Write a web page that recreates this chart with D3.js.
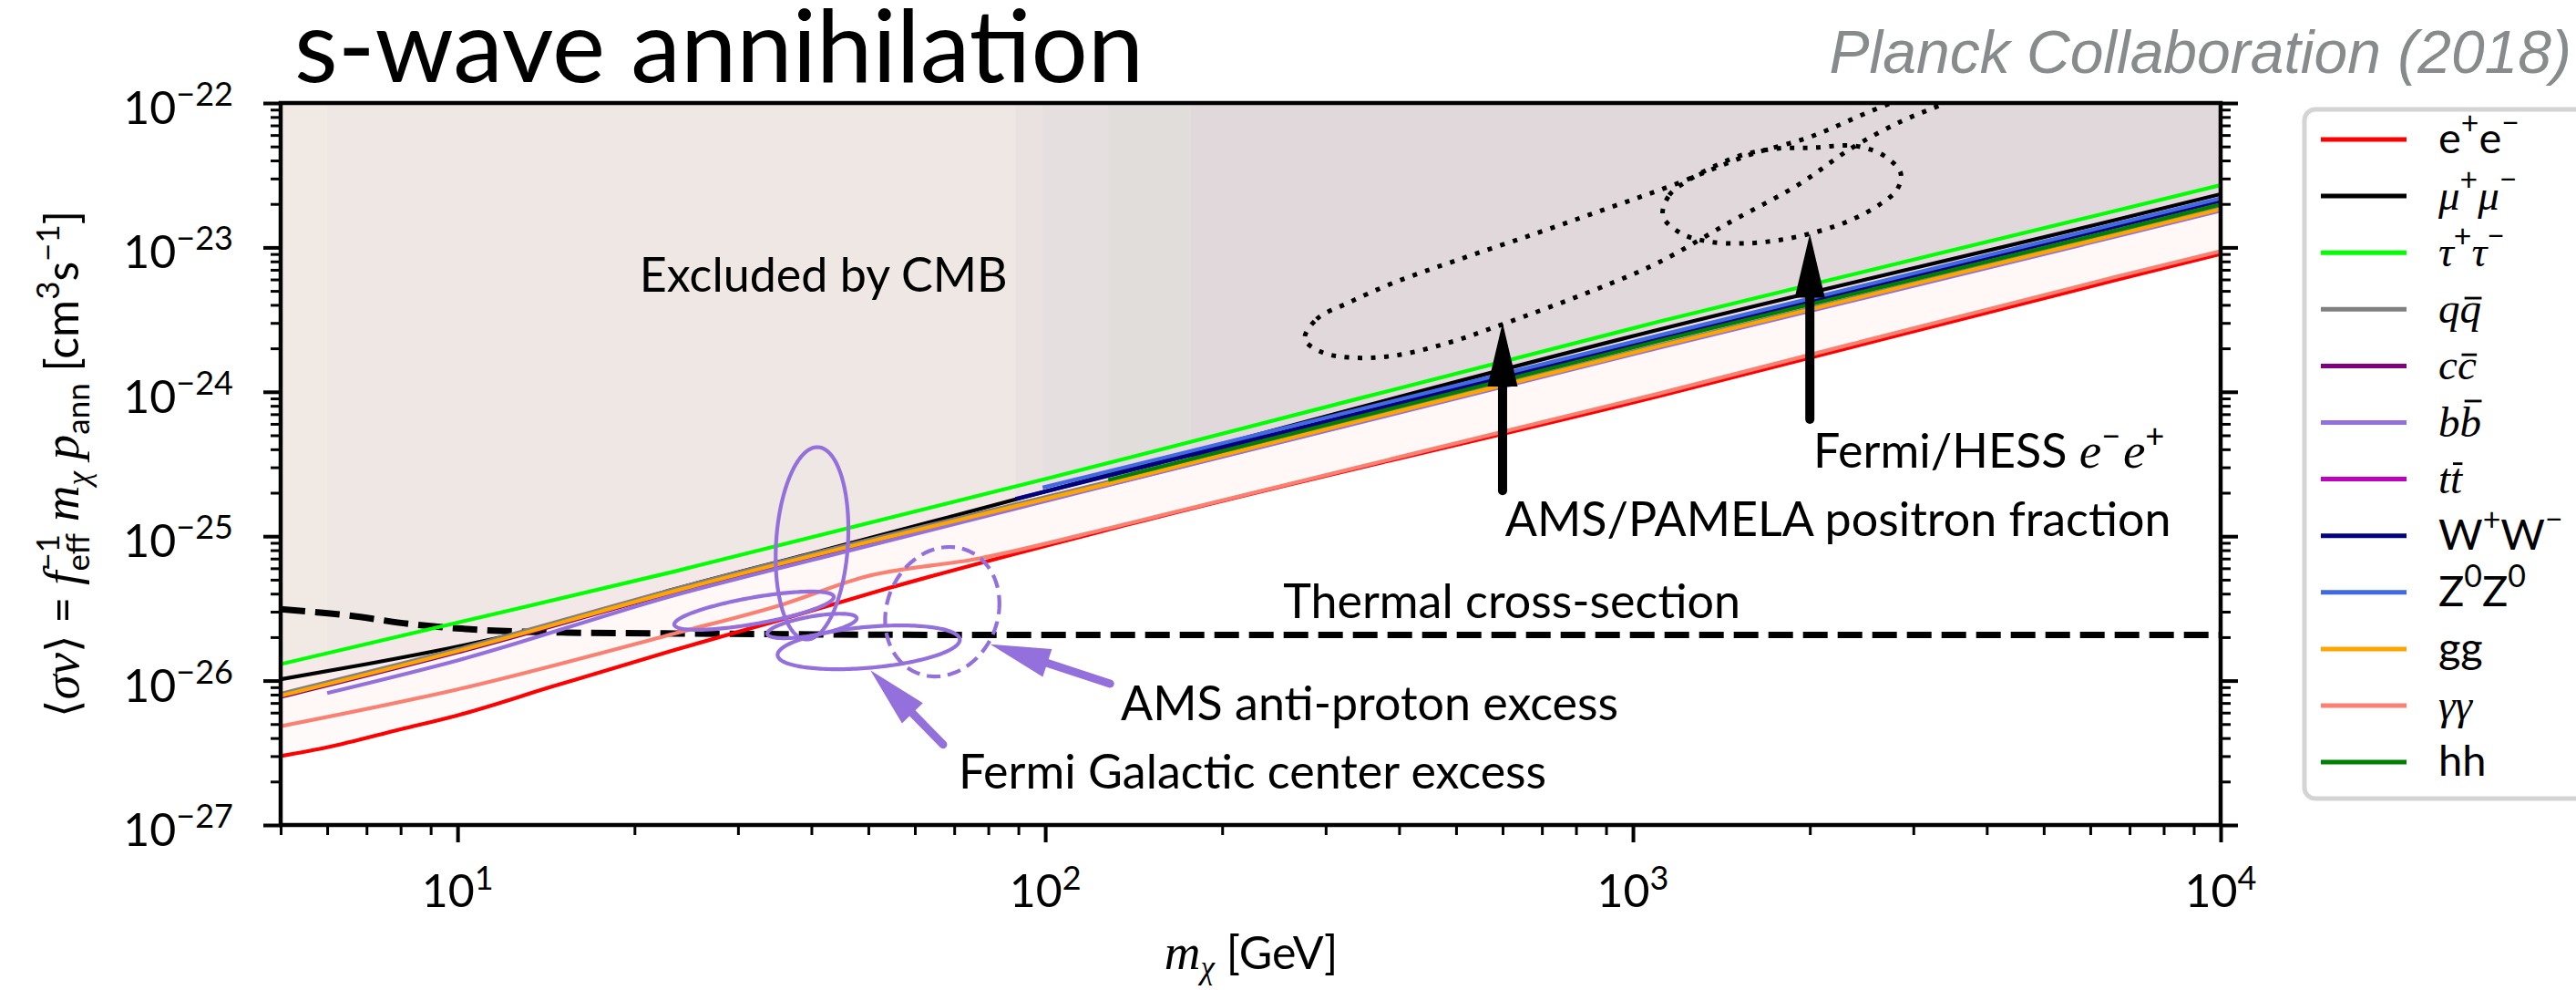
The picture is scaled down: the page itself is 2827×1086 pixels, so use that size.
<!DOCTYPE html>
<html>
<head>
<meta charset="utf-8">
<script src="https://cdn.jsdelivr.net/npm/d3@7"></script>
<style>
  body { margin: 0; background: #fff; }
  svg { display: block; }
  text { white-space: pre; }
</style>
</head>
<body>
<svg id="chart" width="2827" height="1086"></svg>
<script>
// ---- data ----
// each curve: [mass in GeV, <sigma v> in cm^3/s]
const eeCurve     = [[5,3.0e-27],[6,3.45e-27],[8,4.6e-27],[10,5.75e-27],[14.5,9.1e-27],[23.4,1.63e-26],[35,2.6e-26],[54,4.36e-26],[139,1.21e-25],[1104,9.3e-25],[6577,5.9e-24],[1e4,9.0e-24]];
const mumuCurve   = [[5,1.02e-26],[7,1.3e-26],[10,1.72e-26],[13.2,2.2e-26],[23.4,4.3e-26],[42,8.0e-26],[90,1.82e-25],[1104,2.69e-24],[6577,1.54e-23],[1e4,2.34e-23]];
const tautauCurve = [[5,1.30e-26],[10,2.52e-26],[23.4,5.7e-26],[139,3.5e-25],[1104,3.05e-24],[6577,1.78e-23],[1e4,2.7e-23]];
const qqCurve     = [[5,8.1e-27],[10,1.65e-26],[23.4,4.3e-26],[139,2.59e-25],[1104,2.1e-24],[6577,1.23e-23],[1e4,1.87e-23]];
const ccCurve     = [[5,7.7e-27],[10,1.57e-26],[23.4,4.1e-26],[139,2.47e-25],[1104,2.04e-24],[6577,1.2e-23],[1e4,1.82e-23]];
const bbCurve     = [[6,8.2e-27],[10,1.38e-26],[23.4,3.9e-26],[45,7.7e-26],[139,2.45e-25],[1104,2.01e-24],[6577,1.18e-23],[1e4,1.8e-23]];
const ttCurve     = [[177,3.5e-25],[1104,2.4e-24],[6577,1.42e-23],[1e4,2.15e-23]];
const wwCurve     = [[89,1.81e-25],[1104,2.35e-24],[6577,1.38e-23],[1e4,2.1e-23]];
const zzCurve     = [[99,2.17e-25],[1104,2.45e-24],[6577,1.44e-23],[1e4,2.19e-23]];
const ggCurve     = [[5,7.85e-27],[10,1.6e-26],[23.4,4.17e-26],[139,2.51e-25],[1104,2.06e-24],[6577,1.21e-23],[1e4,1.84e-23]];
const gamgamCurve = [[5,4.83e-27],[10,8.7e-27],[23.4,2.12e-26],[36,3.4e-26],[49,5.2e-26],[77,7.0e-26],[139,1.23e-25],[1104,9.7e-25],[6577,6.2e-24],[1e4,9.4e-24]];
const hhCurve     = [[128,2.45e-25],[1104,2.24e-24],[6577,1.30e-23],[1e4,1.98e-23]];

const channelCurves = [eeCurve, mumuCurve, tautauCurve, qqCurve, ccCurve, bbCurve, ttCurve, wwCurve, zzCurve, ggCurve, gamgamCurve, hhCurve];
const channelColors = ['#ff0000','#000000','#00ff00','#808080','#800080','#9370db','#bf00bf','#000080','#4169e1','#ffa500','#fa8072','#008000'];

const thermalCurve = [[5,3.12e-26],[6.5,2.83e-26],[8.4,2.45e-26],[11.5,2.22e-26],[15.4,2.15e-26],[23.4,2.12e-26],[50,2.08e-26],[100,2.07e-26],[1e3,2.07e-26],[1e4,2.07e-26]];

// Fermi GC excess (solid) and AMS antiproton (dashed) ellipses, in decades
const gceEllipses = [
  { m: 40.1,  sv: 8.93e-26, a: 0.0612, b: 0.666,  c: 0,      d: 0.009 },
  { m: 31.95, sv: 3.05e-26, a: 0.1357, b: 0.0928, c: 0.0947, d: 0 },
  { m: 40.1,  sv: 2.39e-26, a: 0.076,  b: 0.0662, c: 0.0527, d: 0 },
  { m: 50.07, sv: 1.70e-26, a: 0.155,  b: 0.1422, c: 0.0524, d: 0 }
];
const pbarEllipse = { m: 66.8, sv: 3.0e-26, a: 0.0969, b: 0.448, c: 0.021, d: 0.0078 };

// positron-fraction and e-e+ preferred regions (dotted)
const pamelaContour = [[276.5,2.32e-24],[289.6,3.19e-24],[328.1,4.14e-24],[392.4,5.71e-24],[503.7,8.2e-24],[677.3,1.233e-23],[891.8,1.824e-23],[1169.5,2.7e-23],[1578,4.37e-23],[2005,5.84e-23],[2537,8.77e-23],[3223,1.3e-22],[4139,2.01e-22],[5127,2.69e-22],[5352,2.16e-22],[4444,1.66e-22],[3340,9.71e-23],[2865,7.48e-23],[2363,4.91e-23],[1907,2.7e-23],[1469,1.51e-23],[1105,7.85e-24],[860.5,5.08e-24],[597.7,2.92e-24],[486.1,2.19e-24],[392.4,1.78e-24],[328.1,1.73e-24],[294.8,1.89e-24]];
const hessContour = [[1124.6,1.649e-23],[1153,2.304e-23],[1234,2.865e-23],[1368.6,3.615e-23],[1534,4.367e-23],[1757,4.834e-23],[2027,4.906e-23],[2388,5.05e-23],[2677,4.303e-23],[2855,3.265e-23],[2814,2.514e-23],[2620,1.964e-23],[2338,1.533e-23],[2063,1.288e-23],[1788,1.13e-23],[1551,1.066e-23],[1344,1.098e-23],[1207.5,1.251e-23]];

// arrows: [from, to] in (mass, <sigma v>)
const blackArrows  = [[[600, 2.07e-25], [600, 3.01e-24]], [[2000, 6.44e-25], [2000, 1.24e-23]]];
const purpleArrows = [[[128.9, 9.52e-27], [80.6, 1.787e-26]], [[67.0, 3.61e-27], [50.4, 1.18e-26]]];

const massMajor = [10, 100, 1000, 10000];
const massExp = ['1', '2', '3', '4'];
const sigmaMajor = [1e-27, 1e-26, 1e-25, 1e-24, 1e-23, 1e-22];
const sigmaExp = ['\u221227', '\u221226', '\u221225', '\u221224', '\u221223', '\u221222'];

const annotations = [
  { text: 'Excluded by CMB', m: 20.4, sv: 4.93e-24 },
  { text: 'Thermal cross-section', m: 254, sv: 2.71e-26 },
  { text: 'AMS anti-proton excess', m: 134.5, sv: 5.32e-27 },
  { text: 'Fermi Galactic center excess', m: 71.2, sv: 1.79e-27 },
  { text: 'AMS/PAMELA positron fraction', m: 606, sv: 1.0e-25 }
];
const hessLabelAt = { m: 2027, sv: 2.99e-25 };

// legend labels as pieces (it = math italic, sup = superscript, bar = overbar height)
const legendLabels = [
  [{ t: 'e' }, { t: '+', sup: true }, { t: 'e' }, { t: '\u2212', sup: true }],
  [{ t: '\u03bc', it: true }, { t: '+', sup: true }, { t: '\u03bc', it: true }, { t: '\u2212', sup: true }],
  [{ t: '\u03c4', it: true }, { t: '+', sup: true }, { t: '\u03c4', it: true }, { t: '\u2212', sup: true }],
  [{ t: 'q', it: true }, { t: 'q', it: true, bar: 0.58 }],
  [{ t: 'c', it: true }, { t: 'c', it: true, bar: 0.58 }],
  [{ t: 'b', it: true }, { t: 'b', it: true, bar: 0.82 }],
  [{ t: 't', it: true }, { t: 't', it: true, bar: 0.68 }],
  [{ t: 'W' }, { t: '+', sup: true }, { t: 'W' }, { t: '\u2212', sup: true }],
  [{ t: 'Z' }, { t: '0', sup: true }, { t: 'Z' }, { t: '0', sup: true }],
  [{ t: 'gg' }],
  [{ t: '\u03b3', it: true }, { t: '\u03b3', it: true }],
  [{ t: 'hh' }]
];

// ---- layout ----
const SANS = 'Lato, "Open Sans", sans-serif';
const SERIF = '"Liberation Serif", "DejaVu Serif", serif';
const plot = { left: 308, right: 2437, top: 113, bottom: 905 };

const svg = d3.select('#chart');
const x = d3.scaleLog().domain([5, 1e4]).range([plot.left, plot.right]);
const y = d3.scaleLog().domain([1e-27, 1e-22]).range([plot.bottom, plot.top]);

svg.append('rect').attr('width', 2827).attr('height', 1086).attr('fill', '#fff');
svg.append('defs').append('clipPath').attr('id', 'plotClip')
  .append('rect').attr('x', plot.left).attr('y', plot.top)
  .attr('width', plot.right - plot.left).attr('height', plot.bottom - plot.top);

function richText(parent, pieces, o) {
  const g = parent.append('g').attr('transform', `translate(${o.x},${o.y})` + (o.rotate ? ` rotate(${o.rotate})` : ''));
  const inner = g.append('g');
  let cx = 0, held = 0;
  pieces.forEach(p => {
    const script = p.sup || p.sub;
    const fs = o.size * (script ? (o.scriptScale || 0.7) : (p.scale || 1));
    const dy = p.sup ? -(o.supShift || 0.42) * o.size : p.sub ? (o.subShift || 0.24) * o.size : 0;
    const t = inner.append('text')
      .attr('x', cx).attr('y', dy)
      .attr('font-size', fs)
      .attr('font-family', p.font || (p.it ? SERIF : SANS))
      .attr('font-style', p.it ? 'italic' : null)
      .attr('fill', o.color || '#000')
      .text(p.t);
    const w = t.node().getComputedTextLength();
    if (p.bar) {
      inner.append('line')
        .attr('x1', cx + w * 0.22).attr('x2', cx + w * 1.02)
        .attr('y1', dy - p.bar * fs).attr('y2', dy - p.bar * fs)
        .attr('stroke', o.color || '#000').attr('stroke-width', fs * 0.06);
    }
    if (p.stack) held = Math.max(held, w);
    else { cx += Math.max(w, held) + (p.kern || 0) * o.size; held = 0; }
  });
  const shift = o.anchor === 'middle' ? -cx / 2 : o.anchor === 'end' ? -cx : 0;
  inner.attr('transform', `translate(${shift},0)`);
  return g;
}

// ---- exclusion shading + channel curves ----
const plotArea = svg.append('g').attr('clip-path', 'url(#plotClip)');

const area = d3.area().x(d => x(d[0])).y0(plot.top).y1(d => y(d[1])).curve(d3.curveMonotoneX);
const line = d3.line().x(d => x(d[0])).y(d => y(d[1])).curve(d3.curveMonotoneX);

plotArea.selectAll('.fill')
  .data(channelCurves)
  .join('path')
  .attr('class', 'fill')
  .attr('d', area)
  .attr('fill', (d, i) => channelColors[i])
  .attr('fill-opacity', 0.021);

plotArea.append('path')
  .datum(thermalCurve)
  .attr('d', line)
  .attr('fill', 'none').attr('stroke', '#000')
  .attr('stroke-width', 7).attr('stroke-dasharray', '27,11');

plotArea.selectAll('.curve')
  .data(channelCurves)
  .join('path')
  .attr('class', 'curve')
  .attr('d', line)
  .attr('fill', 'none')
  .attr('stroke', (d, i) => channelColors[i])
  .attr('stroke-width', 4.2);

// ---- contours ----
function ellipsePoints(e) {
  const lm = Math.log10(e.m), ls = Math.log10(e.sv);
  return d3.range(0, 2 * Math.PI, Math.PI / 90).map(t => [
    10 ** (lm + e.a * Math.cos(t) + e.d * Math.sin(t)),
    10 ** (ls + e.b * Math.sin(t) + e.c * Math.cos(t))
  ]);
}
const closedLine = d3.line().x(d => x(d[0])).y(d => y(d[1])).curve(d3.curveLinearClosed);
const smoothClosed = d3.line().x(d => x(d[0])).y(d => y(d[1])).curve(d3.curveCatmullRomClosed.alpha(0.5));

plotArea.selectAll('.gce')
  .data(gceEllipses)
  .join('path')
  .attr('class', 'gce')
  .attr('d', d => closedLine(ellipsePoints(d)))
  .attr('fill', 'none').attr('stroke', '#9370db').attr('stroke-width', 4.2);

plotArea.append('path')
  .attr('d', closedLine(ellipsePoints(pbarEllipse)))
  .attr('fill', 'none').attr('stroke', '#9370db').attr('stroke-width', 4.2)
  .attr('stroke-dasharray', '15,8');

plotArea.selectAll('.dotted')
  .data([pamelaContour, hessContour])
  .join('path')
  .attr('class', 'dotted')
  .attr('d', smoothClosed)
  .attr('fill', 'none').attr('stroke', '#000').attr('stroke-width', 5)
  .attr('stroke-dasharray', '5,9.5');

// ---- arrows ----
function drawArrow(g, from, to, s) {
  const x0 = x(from[0]), y0 = y(from[1]), x1 = x(to[0]), y1 = y(to[1]);
  const L = Math.hypot(x1 - x0, y1 - y0), ux = (x1 - x0) / L, uy = (y1 - y0) / L;
  const px = -uy, py = ux;
  const bx = x1 - ux * s.headL, by = y1 - uy * s.headL;
  g.append('line')
    .attr('x1', x0).attr('y1', y0).attr('x2', bx + ux * 2).attr('y2', by + uy * 2)
    .attr('stroke', s.color).attr('stroke-width', s.width).attr('stroke-linecap', 'round');
  g.append('path')
    .attr('d', `M${x1},${y1}L${bx + px * s.headW / 2},${by + py * s.headW / 2}L${bx - px * s.headW / 2},${by - py * s.headW / 2}Z`)
    .attr('fill', s.color);
}
blackArrows.forEach(a => drawArrow(plotArea, a[0], a[1], { color: '#000', width: 10, headW: 33, headL: 70 }));
purpleArrows.forEach(a => drawArrow(plotArea, a[0], a[1], { color: '#9370db', width: 9, headW: 32, headL: 66 }));

// ---- annotation text ----
annotations.forEach(a => {
  svg.append('text')
    .attr('x', x(a.m)).attr('y', y(a.sv))
    .attr('font-family', SANS).attr('font-size', 52)
    .text(a.text);
});
richText(svg, [
  { t: 'Fermi/HESS ' }, { t: 'e', it: true, scale: 1.06 }, { t: '\u2212', sup: true, kern: 0.05 },
  { t: 'e', it: true, scale: 1.06 }, { t: '+', sup: true }
], { x: x(hessLabelAt.m), y: y(hessLabelAt.sv), size: 52 });

// ---- axes ----
const minorMass = x.ticks().filter(v => !massMajor.includes(v));
const minorSigma = y.ticks().filter(v => !sigmaMajor.some(s => Math.abs(s - v) / s < 1e-6));

const axes = svg.append('g');
function tickGroup(axis, tx, ty) {
  const g = axes.append('g').attr('transform', `translate(${tx},${ty})`).call(axis);
  g.select('.domain').remove();
  g.selectAll('text').remove();
  return g;
}
tickGroup(d3.axisBottom(x).tickValues(massMajor).tickSize(19).tickSizeOuter(0), 0, plot.bottom)
  .selectAll('line').attr('stroke', '#000').attr('stroke-width', 4);
tickGroup(d3.axisBottom(x).tickValues(minorMass).tickSize(11).tickSizeOuter(0), 0, plot.bottom)
  .selectAll('line').attr('stroke', '#000').attr('stroke-width', 3);
[[d3.axisLeft, plot.left], [d3.axisRight, plot.right]].forEach(([mk, pos]) => {
  tickGroup(mk(y).tickValues(sigmaMajor).tickSize(19).tickSizeOuter(0), pos, 0)
    .selectAll('line').attr('stroke', '#000').attr('stroke-width', 4);
  tickGroup(mk(y).tickValues(minorSigma).tickSize(11).tickSizeOuter(0), pos, 0)
    .selectAll('line').attr('stroke', '#000').attr('stroke-width', 3);
});

axes.append('rect')
  .attr('x', plot.left).attr('y', plot.top)
  .attr('width', plot.right - plot.left).attr('height', plot.bottom - plot.top)
  .attr('fill', 'none').attr('stroke', '#000').attr('stroke-width', 4.5);

massMajor.forEach((v, i) => {
  richText(axes, [{ t: '10' }, { t: massExp[i], sup: true }],
    { x: x(v), y: 995, size: 50, anchor: 'middle', scriptScale: 0.72, supShift: 0.38 });
});
sigmaMajor.forEach((v, i) => {
  richText(axes, [{ t: '10' }, { t: sigmaExp[i], sup: true }],
    { x: 256, y: y(v) + 23, size: 50, anchor: 'end', scriptScale: 0.72, supShift: 0.4 });
});

// axis titles
richText(svg, [
  { t: 'm', it: true, scale: 1.1 }, { t: '\u03c7', it: true, sub: true }, { t: ' [GeV]' }
], { x: 1373, y: 1063, size: 50, anchor: 'middle', subShift: 0.2 });

richText(svg, [
  { t: '\u27e8', font: '"DejaVu Sans", sans-serif' }, { t: '\u03c3v', it: true, scale: 1.1 },
  { t: '\u27e9', font: '"DejaVu Sans", sans-serif' }, { t: ' = ' },
  { t: 'f', it: true, scale: 1.1 }, { t: '\u22121', sup: true, stack: true }, { t: 'eff', sub: true },
  { t: ' ' }, { t: 'm', it: true, scale: 1.1 }, { t: '\u03c7', it: true, sub: true },
  { t: ' ' }, { t: 'p', it: true, scale: 1.1 }, { t: 'ann', sub: true },
  { t: ' [cm' }, { t: '3', sup: true }, { t: 's' }, { t: '\u22121', sup: true }, { t: ']' }
], { x: 86, y: 509, size: 50, anchor: 'middle', rotate: -90 });

// ---- titles ----
svg.append('text')
  .attr('x', 323).attr('y', 90)
  .attr('font-family', SANS).attr('font-size', 110)
  .text('s-wave annihilation');
svg.append('text')
  .attr('x', 2822).attr('y', 80).attr('text-anchor', 'end')
  .attr('font-family', '"Liberation Sans", Arial, sans-serif').attr('font-style', 'italic')
  .attr('font-size', 66).attr('fill', '#878b8b')
  .text('Planck Collaboration (2018)');

// ---- legend (matplotlib-style padding: line 2em, pad 0.4em) ----
const legend = svg.append('g');
legend.append('rect')
  .attr('x', 2529).attr('y', 120).attr('width', 400).attr('height', 756)
  .attr('rx', 12).attr('fill', '#fff').attr('stroke', '#d4d4d4').attr('stroke-width', 5);
legendLabels.forEach((pieces, i) => {
  const ly = 153 + i * 62.1;
  legend.append('line')
    .attr('x1', 2547).attr('x2', 2641).attr('y1', ly).attr('y2', ly)
    .attr('stroke', channelColors[i]).attr('stroke-width', 5);
  richText(legend, pieces, { x: 2676, y: ly + 15, size: 47, scriptScale: 0.72, supShift: 0.45 });
});
</script>
</body>
</html>
